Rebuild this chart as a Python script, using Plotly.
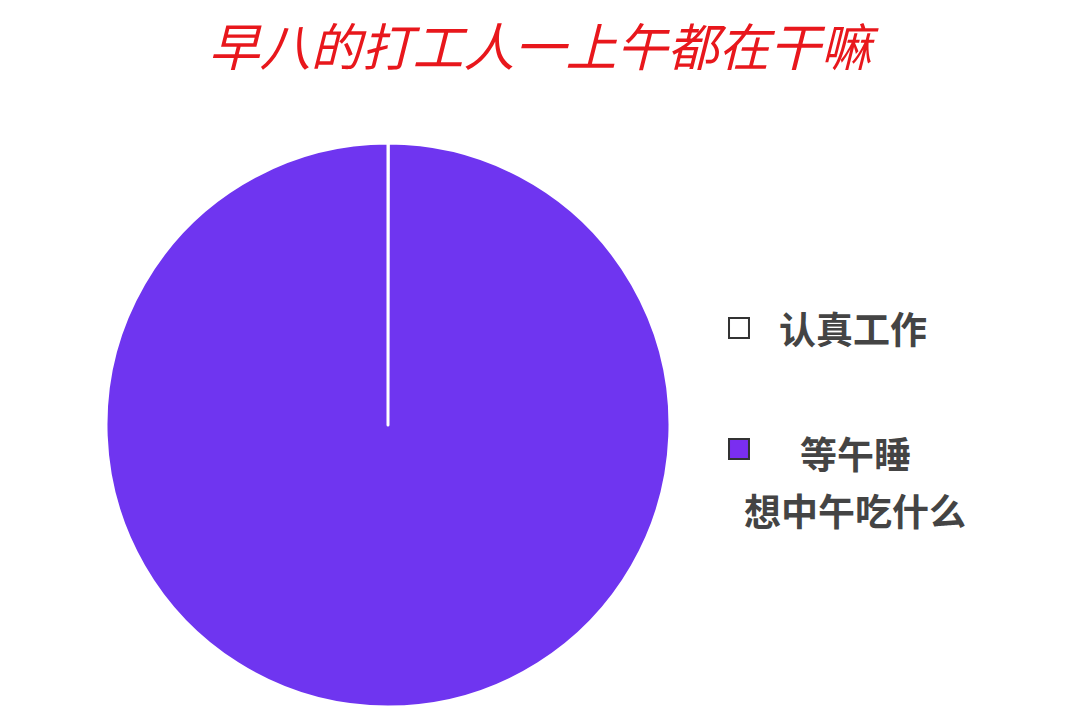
import plotly.graph_objects as go

# data
categories = ["认真工作", "等午睡<br>想中午吃什么"]
values = [0.02, 99.98]
slice_colors = ["#ffffff", "#6f35f0"]
legend_colors = ["#ffffff", "#7a2ef0"]
title_text = "早八的打工人一上午都在干嘛"

LABEL_FONT = dict(family="Noto Sans CJK SC", size=37, color="#444444", weight="bold")

fig = go.Figure()

fig.add_trace(
    go.Pie(
        labels=categories,
        values=values,
        sort=False,
        direction="clockwise",
        rotation=0,
        marker=dict(colors=slice_colors, line=dict(color="#ffffff", width=3)),
        textinfo="none",
        hoverinfo="label+percent",
        showlegend=False,
        domain=dict(x=[0.0907, 0.6130], y=[0.0409, 0.9291]),
    )
)

# hand-made legend to the right of the pie (plot area coords)
legend_y = [0.6378, 0.4472]  # square centres
for cat, col, yc in zip(categories, legend_colors, legend_y):
    fig.add_shape(
        type="rect",
        xref="paper",
        yref="paper",
        x0=0.6676,
        x1=0.6861,
        y0=yc - 0.0158,
        y1=yc + 0.0158,
        fillcolor=col,
        line=dict(color="#333333", width=2),
    )

fig.add_annotation(
    text=categories[0],
    xref="paper",
    yref="paper",
    x=0.7120,
    y=0.6378,
    xanchor="left",
    yanchor="middle",
    showarrow=False,
    font=LABEL_FONT,
)
first, second = categories[1].split("<br>")
fig.add_annotation(
    text=first,
    xref="paper",
    yref="paper",
    x=0.7843,
    y=0.4409,
    xanchor="center",
    yanchor="middle",
    showarrow=False,
    font=LABEL_FONT,
)
fig.add_annotation(
    text=second,
    xref="paper",
    yref="paper",
    x=0.7843,
    y=0.3512,
    xanchor="center",
    yanchor="middle",
    showarrow=False,
    font=LABEL_FONT,
)

fig.update_layout(
    width=1080,
    height=725,
    margin=dict(l=0, r=0, t=90, b=0),
    paper_bgcolor="#ffffff",
    plot_bgcolor="#ffffff",
    title=dict(
        text="<i>" + title_text + "</i>",
        x=0.4925,
        xanchor="center",
        y=0.945,
        yanchor="middle",
        font=dict(family="Noto Sans CJK SC", size=51, color="#e8171c"),
    ),
)

fig.write_html("out.html")
